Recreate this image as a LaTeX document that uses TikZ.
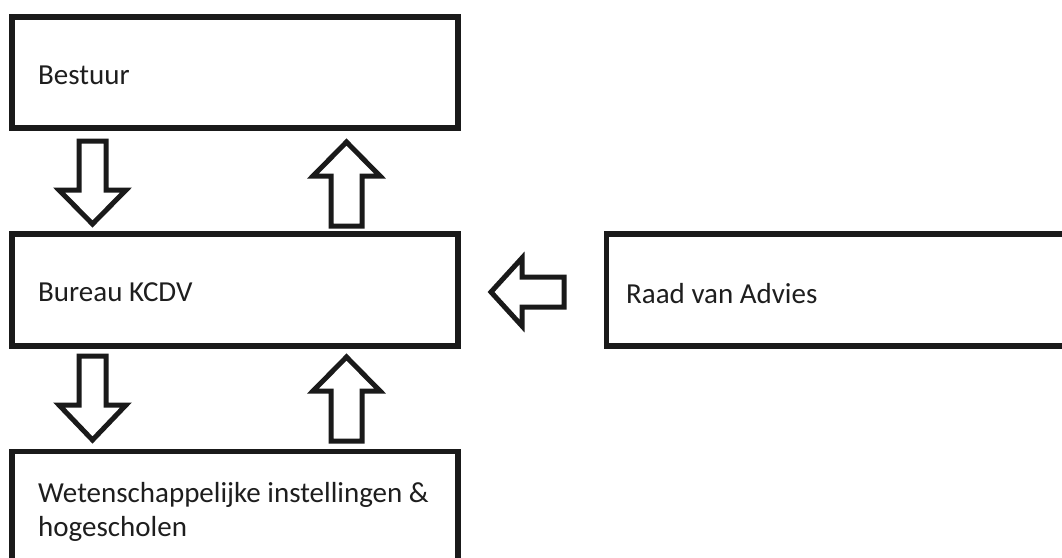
\documentclass[tikz,border=0pt]{standalone}
\usepackage{fontspec}
\setmainfont{Carlito}
\definecolor{ink}{HTML}{1A1A1A}
\definecolor{txt}{HTML}{1E1E1E}
\tikzset{
  box/.style={draw=ink, line width=5.5pt, rectangle, inner sep=0pt},
  blockarrow/.style={draw=ink, line width=5pt, fill=white, line join=miter},
  lbl/.style={anchor=base west, inner sep=0pt, text=txt, font=\fontsize{29}{34}\selectfont, align=left}
}
\begin{document}
\begin{tikzpicture}[x=1pt, y=-1pt]
\useasboundingbox (0,0) rectangle (1062,557);
\fill[white] (0,0) rectangle (1062,557);
% boxes
\node[box, minimum width=446pt, minimum height=111pt] (bestuur) at (235,72.5) {};
\node[box, minimum width=446pt, minimum height=112pt] (bureau) at (235,290) {};
\node[box, minimum width=500pt, minimum height=112pt] (raad) at (856.5,290) {};
\node[box, minimum width=446pt, minimum height=160pt] (weten) at (235,531.5) {};
% labels
\node[lbl] (tbestuur) at (38,84) {Bestuur};
\node[lbl] (tbureau) at (38,301) {Bureau KCDV};
\node[lbl] (traad) at (626,303) {Raad van Advies};
\node[lbl] (tweten) at (38,536) {Wetenschappelijke instellingen \&\\hogescholen};
% block arrows: Bestuur -> Bureau (down)
\draw[blockarrow] (79,141) -- (106,141) -- (106,190) -- (126,190) -- (92.5,224) -- (59,190) -- (79,190) -- cycle;
% Bureau -> Bestuur (up)
\draw[blockarrow] (331,226) -- (362,226) -- (362,176) -- (380,176) -- (346.5,142) -- (313,176) -- (331,176) -- cycle;
% Bureau -> Wetenschappelijke (down)
\draw[blockarrow] (79,356) -- (106,356) -- (106,405) -- (126,405) -- (92.5,440) -- (59,405) -- (79,405) -- cycle;
% Wetenschappelijke -> Bureau (up)
\draw[blockarrow] (331,441) -- (362,441) -- (362,391) -- (380,391) -- (346.5,357) -- (313,391) -- (331,391) -- cycle;
% Raad -> Bureau (left)
\draw[blockarrow] (564,277) -- (564,307) -- (522,307) -- (522,326) -- (491,292) -- (522,258) -- (522,277) -- cycle;
\end{tikzpicture}
\end{document}
